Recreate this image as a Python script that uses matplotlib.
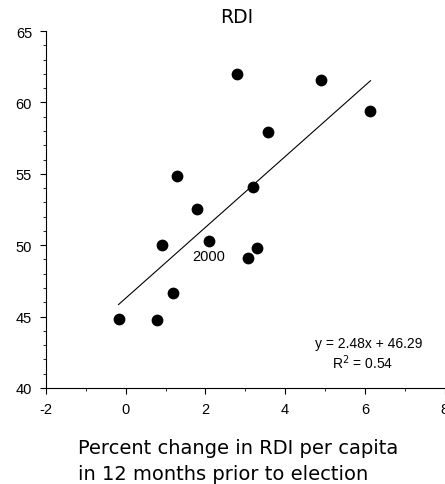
import matplotlib
matplotlib.use("Agg")
import matplotlib.pyplot as plt
import numpy as np
from matplotlib.ticker import MultipleLocator

plt.rcParams['axes.unicode_minus'] = False

x_vals = [2.78, 4.89, 6.14, 3.56, 1.28, 3.20, 1.78, 0.90, 2.08, 3.29, 3.06, 1.19, -0.18, 0.78]
y_vals = [61.98, 61.56, 59.40, 57.90, 54.84, 54.05, 52.50, 50.03, 50.30, 49.82, 49.08, 46.66, 44.83, 44.76]
slope = 2.48
intercept = 46.29
r2 = 0.54
label_2000 = (2.08, 50.3)

fig = plt.figure(figsize=(4.45, 4.85), dpi=100)
ax = fig.add_axes([0.1034, 0.198, 0.8957, 0.736])

ax.scatter(x_vals, y_vals, s=72, color='black', zorder=3, linewidths=0)
xl = np.array([min(x_vals), max(x_vals)])
ax.plot(xl, slope * xl + intercept, color='black', linewidth=0.8)

ax.set_xlim(-2, 8)
ax.set_ylim(40, 65)
ax.xaxis.set_major_locator(MultipleLocator(2))
ax.xaxis.set_minor_locator(MultipleLocator(1))
ax.yaxis.set_major_locator(MultipleLocator(5))
ax.yaxis.set_minor_locator(MultipleLocator(1))
for s in ['top', 'right']:
    ax.spines[s].set_visible(False)
for s in ['left', 'bottom']:
    ax.spines[s].set_linewidth(0.8)
ax.tick_params(which='major', length=4, width=0.8, labelsize=10.5, pad=6)
ax.tick_params(which='minor', length=2, width=0.6)
for lab in ax.get_xticklabels() + ax.get_yticklabels():
    lab.set_family('Liberation Sans')

ax.text(label_2000[0], 49.25, '2000', ha='center', va='center',
        fontsize=10.5, family='Liberation Sans')
ax.text(6.1, 43.15, f'y = {slope:.2f}x + {intercept:.2f}', ha='center', va='center',
        fontsize=10, family='Liberation Sans')
ax.text(5.95, 41.85, f'R$^2$ = {r2:.2f}', ha='center', va='center',
        fontsize=10, family='Liberation Sans')

fig.text(0.533, 0.963, 'RDI', ha='center', va='center', fontsize=13.5, family='DejaVu Sans')
fig.text(0.175, 0.049, 'Percent change in RDI per capita\nin 12 months prior to election',
         ha='left', va='center', fontsize=14, family='DejaVu Sans', linespacing=1.45)

fig.savefig('out.png', dpi=100)
